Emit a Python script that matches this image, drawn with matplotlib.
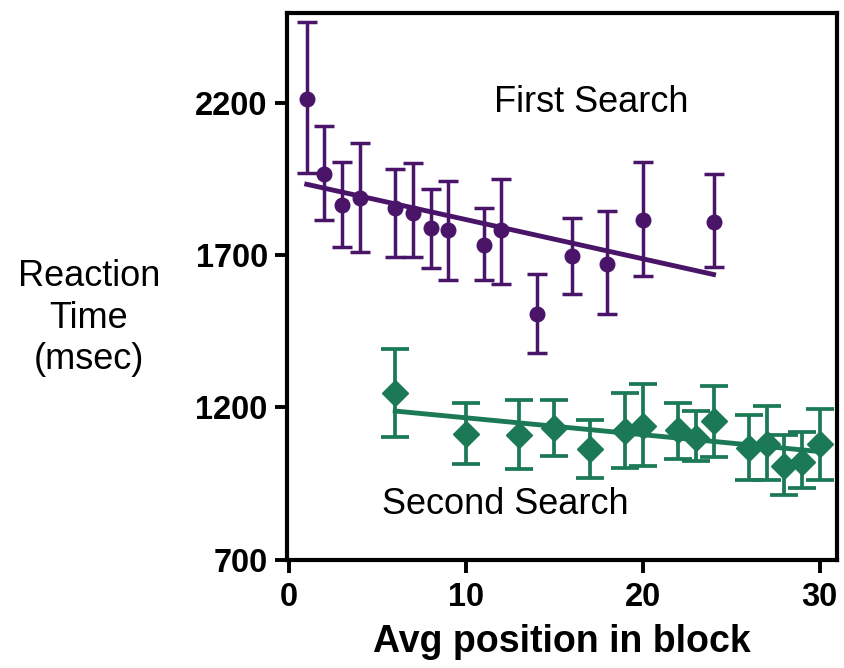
import numpy as np
import matplotlib
matplotlib.use("Agg")
import matplotlib.pyplot as plt

plt.rcParams['font.family'] = ['Liberation Sans', 'DejaVu Sans']

# First search: avg position, mean RT, error bar bounds (msec)
first_x = [1, 2, 3, 4, 6, 7, 8, 9, 11, 12, 14, 16, 18, 20, 24]
first_y = [2212, 1966, 1864, 1886, 1853, 1837, 1787, 1782, 1732, 1782, 1505, 1696, 1672, 1814, 1809]
first_hi = [2465, 2124, 2005, 2069, 1982, 2001, 1916, 1943, 1853, 1950, 1639, 1823, 1844, 2005, 1966]
first_lo = [1968, 1815, 1725, 1710, 1694, 1694, 1657, 1617, 1617, 1606, 1377, 1571, 1507, 1630, 1659]
first_fit_x = [1, 24]
first_fit_y = [1932, 1636]

# Second search
second_x = [6, 10, 13, 15, 17, 19, 20, 22, 23, 24, 26, 27, 28, 29, 30]
second_y = [1247, 1114, 1108, 1134, 1062, 1123, 1139, 1125, 1099, 1156, 1068, 1081, 1007, 1021, 1079]
second_hi = [1392, 1214, 1224, 1224, 1158, 1247, 1276, 1214, 1188, 1269, 1175, 1205, 1109, 1119, 1194]
second_lo = [1103, 1013, 998, 1039, 969, 1000, 1007, 1031, 1024, 1037, 961, 961, 914, 936, 961]
second_fit_x = [6, 30]
second_fit_y = [1188, 1055]

purple = '#4a1568'
green = '#1b7a55'

fig = plt.figure(figsize=(8.45, 6.68), dpi=100)
ax = fig.add_axes([0.340, 0.162, 0.651, 0.819])

fy = np.array(first_y)
ax.errorbar(first_x, fy, yerr=[fy - np.array(first_lo), np.array(first_hi) - fy],
            fmt='o', color=purple, ms=10.5, elinewidth=2.5, capsize=7, capthick=2.5, zorder=3)
ax.plot(first_fit_x, first_fit_y, color=purple, lw=3.5, zorder=2)

sy = np.array(second_y)
ax.errorbar(second_x, sy, yerr=[sy - np.array(second_lo), np.array(second_hi) - sy],
            fmt='D', color=green, ms=13, elinewidth=2.7, capsize=10, capthick=2.7, zorder=3)
ax.plot(second_fit_x, second_fit_y, color=green, lw=3.5, zorder=2)

ax.text(17.1, 2200, 'First Search', fontsize=26, ha='center', va='center')
ax.text(12.2, 880, 'Second Search', fontsize=26, ha='center', va='center')

ax.set_xlim(-0.1, 31.0)
ax.set_ylim(700, 2495)
ax.set_xticks([0, 10, 20, 30])
ax.set_yticks([700, 1200, 1700, 2200])
for s in ax.spines.values():
    s.set_linewidth(3.0)
ax.tick_params(direction='out', length=9, width=2.8, labelsize=23.5)
ax.tick_params(axis='y', pad=5)
ax.tick_params(axis='x', pad=7)
for lab in ax.get_xticklabels() + ax.get_yticklabels():
    lab.set_fontweight('bold')

ax.set_xlabel('Avg position in block', fontsize=27, fontweight='bold', labelpad=8)
fig.text(89 / 845, 1 - 318 / 668, 'Reaction\nTime\n(msec)', fontsize=26,
         ha='center', va='center', linespacing=1.25)

fig.savefig('out.png', dpi=100)
